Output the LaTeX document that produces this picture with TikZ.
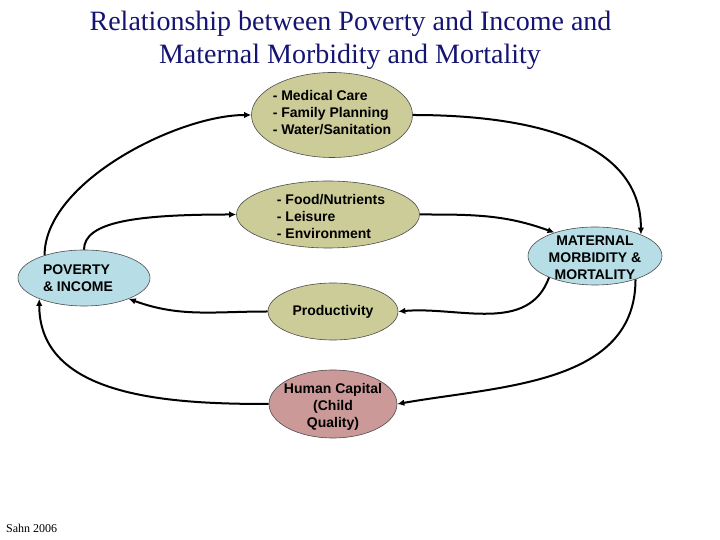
\documentclass[tikz,border=0pt]{standalone}
\usepackage{fontspec}
\setmainfont{Liberation Serif}
\setsansfont{Liberation Sans}
\usetikzlibrary{shapes.geometric,arrows.meta}
\definecolor{khaki}{RGB}{204,204,153}
\definecolor{paleblue}{RGB}{183,221,230}
\definecolor{rose}{RGB}{204,153,153}
\definecolor{titleblue}{RGB}{20,20,115}

\begin{document}
\begin{tikzpicture}[x=1pt,y=1pt,
  blob/.style={ellipse,draw=black!70,line width=0.6pt,inner sep=0pt},
  txt/.style={font=\sffamily\bfseries\fontsize{14}{17}\selectfont,inner sep=0pt},
  link/.style={line width=2pt,-{Latex[length=7pt,width=6.5pt]}}]
 \useasboundingbox (0,0) rectangle (720,540);

 \node[font=\fontsize{28}{33}\selectfont,text=titleblue,anchor=base] (title1) at (350.5,509) {Relationship between Poverty and Income and};
 \node[font=\fontsize{28}{33}\selectfont,text=titleblue,anchor=base] (title2) at (350,476) {Maternal Morbidity and Mortality};

 \node[blob,fill=khaki,minimum width=161pt,minimum height=85pt,
   label={[txt,align=left,yshift=2pt]center:{- Medical Care\\- Family Planning\\- Water/Sanitation}}] (med) at (332,425) {};
 \node[blob,fill=khaki,minimum width=183pt,minimum height=67pt,
   label={[txt,align=left,xshift=3pt,yshift=-2pt]center:{- Food/Nutrients\\- Leisure\\- Environment}}] (food) at (328,325.5) {};
 \node[blob,fill=paleblue,minimum width=132pt,minimum height=56pt,
   label={[txt,align=left,xshift=-6pt]center:{POVERTY\\\& INCOME}}] (pov) at (84,262) {};
 \node[blob,fill=paleblue,minimum width=134pt,minimum height=58pt,
   label={[txt,align=center,yshift=-2pt]center:{MATERNAL\\MORBIDITY \&\\MORTALITY}}] (mat) at (595,284) {};
 \node[blob,fill=khaki,minimum width=130pt,minimum height=57pt,
   label={[txt]center:{Productivity}}] (prod) at (333,228.5) {};
 \node[blob,fill=rose,minimum width=128pt,minimum height=68pt,
   label={[txt,align=center,yshift=-3pt]center:{Human Capital\\(Child\\Quality)}}] (hc) at (333,136) {};

 % links
 \draw[link] (pov.150) to[out=90,in=180,looseness=0.75] (med.west);
 \draw[link] (med.east) to[out=0,in=90] (mat.25);
 \draw[link] (pov.north) to[out=90,in=180,out distance=28pt,in distance=100pt] (food.west);
 \draw[link] (food.east) to[out=0,in=160] (mat.150);
 \draw[link] (mat.205) to[out=250,in=5] (prod.east);
 \draw[link] (mat.-30) to[out=-90,in=10] (hc.east);
 \draw[link] (prod.west) to[out=180,in=-20] (pov.-25);
 \draw[link] (hc.west) to[out=180,in=-90] (pov.205);

 \node[font=\fontsize{12}{14}\selectfont,anchor=base west,inner sep=0pt] (src) at (6,7) {Sahn 2006};
\end{tikzpicture}
\end{document}
